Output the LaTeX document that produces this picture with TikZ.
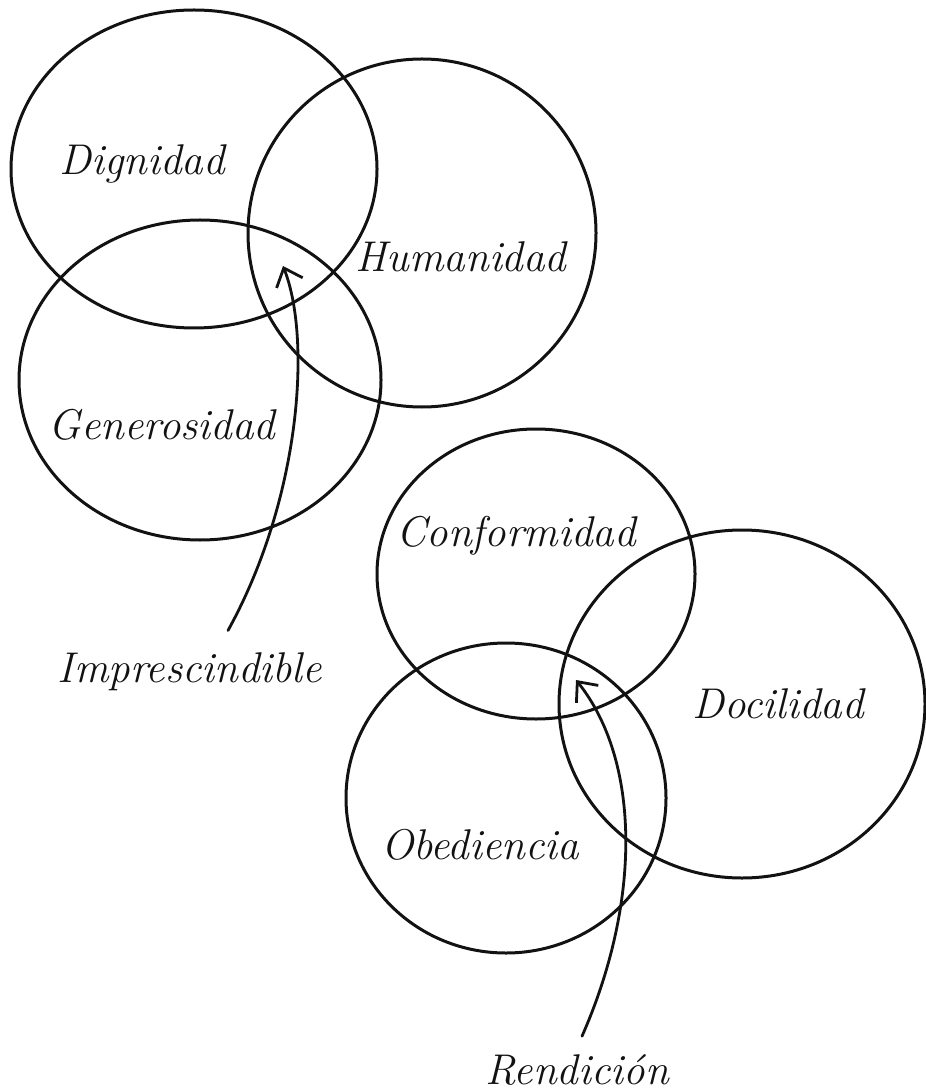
\documentclass[tikz,border=0pt]{standalone}
\usepackage{tikz}
\usetikzlibrary{calc,arrows.meta,positioning}
\definecolor{inkBlack}{RGB}{18,18,18}

\tikzset{
  ring/.style={draw=inkBlack, line width=1.5pt},
  word/.style={text=inkBlack, font=\fontsize{21.5}{24}\selectfont\itshape, inner sep=0pt},
  pointer/.style={draw=inkBlack, line width=1.4pt, line cap=round, -{Straight Barb[length=8pt,width=14pt]}}
}

\begin{document}
\begin{tikzpicture}[x=0.5pt,y=-0.5pt]
\useasboundingbox (0,0) rectangle (925,1090);

% upper group
\draw[ring] (194,169) ellipse [x radius=183, y radius=159];
\draw[ring] (422,233) ellipse [x radius=174, y radius=174];
\draw[ring] (200,380) ellipse [x radius=181, y radius=160];

\node[word] (dig) at (142,164) {Dignidad};
\node[word] (hum) at (461,257) {Humanidad};
\node[word] (gen) at (162,425) {Generosidad};
\node[word] (imp) at (190,672) {Imprescindible};

\coordinate (imptip) at (283,266);
\draw[pointer] ($(imp.north)+(38,-22)$) .. controls (300,500) and (312,340) .. (imptip);

% lower group
\draw[ring] (536,574) ellipse [x radius=159, y radius=145];
\draw[ring] (742,704) ellipse [x radius=183, y radius=174];
\draw[ring] (506,798) ellipse [x radius=160, y radius=155];

\node[word] (conf) at (516,536) {Conformidad};
\node[word] (doc) at (778,704) {Docilidad};
\node[word] (obe) at (480,845) {Obediencia};
\node[word] (rend) at (577,1070) {Rendición};

\coordinate (rendtip) at (576,680);
\draw[pointer] ($(rend.north)+(5,-18)$) .. controls (642,900) and (640,760) .. (rendtip);
\end{tikzpicture}
\end{document}
